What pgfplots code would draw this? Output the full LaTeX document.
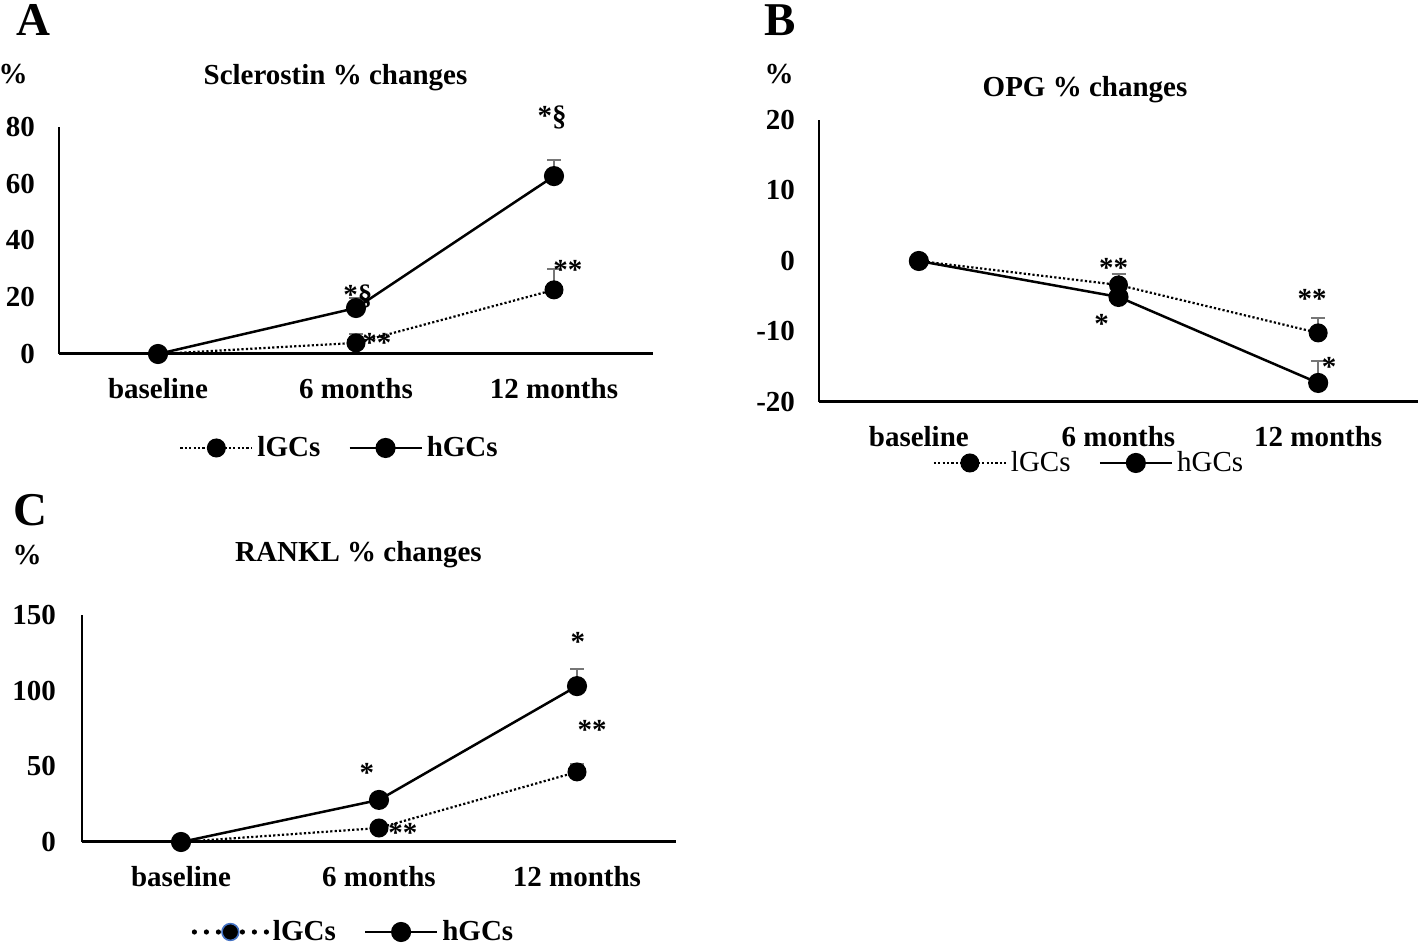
\documentclass[border=0pt]{standalone}
\usepackage{fontspec}
\setmainfont{Liberation Serif}
\usepackage{pgfplots}
\pgfplotsset{compat=1.18}
\definecolor{errgray}{RGB}{118,118,118}
\definecolor{mkblue}{RGB}{68,114,196}
\newcommand{\fs}{\fontsize{14.5}{17}\selectfont}
\tikzset{star/.style={font=\fs\bfseries, anchor=base, inner sep=0pt}}
\pgfplotsset{
 panel/.style={
  scale only axis, axis lines=left, axis line style={-, line width=1pt},
  x axis line style={line width=1.5pt},
  xmin=-0.5, xmax=2.5, xtick={0,1,2}, xticklabels={baseline, 6 months, 12 months},
  major tick length=0pt, clip=false,
  tick label style={font=\fs\bfseries},
  /pgf/number format/assume math mode=true,
  xticklabel style={yshift=-8.5pt},
  yticklabel style={xshift=-8.5pt},
  anchor=south west,
  legend image code/.code={\draw[mark repeat=2,mark phase=2,##1] plot coordinates {(0pt,0pt) (18pt,0pt) (36pt,0pt)};},
  legend style={draw=none, fill=none, inner sep=0pt, anchor=center, legend columns=2, font=\fs\bfseries,
    /tikz/every even column/.append style={column sep=12pt}},
 },
 hg/.style={black, solid, line width=1.25pt, mark=*, mark size=4.4pt, mark options={solid, fill=black}},
 lg/.style={black, line width=1.1pt, dash pattern=on 1.1pt off 1.1pt, mark=*, mark size=4.2pt, mark options={solid, fill=black}},
 eb/.style={error bars/.cd, y dir=plus, y explicit,
   error bar style={errgray, line width=1pt, solid},
   error mark options={rotate=90, errgray, mark size=3.5pt, line width=1pt, solid}},
}
\begin{document}
\begin{tikzpicture}
\path[use as bounding box] (0,0) rectangle (709pt,473pt);

% ---------------- Panel A ----------------
\begin{axis}[panel, at={(29.5pt,296pt)}, width=297pt, height=113.5pt,
  ymin=0, ymax=80, ytick={0,20,40,60,80},
  legend style={at={(0.4739,-0.4141)}}]
\addplot[lg, eb] coordinates {(0,0) +- (0,0) (1,3.9) +- (0,3.1) (2,22.6) +- (0,7.4)};
\addlegendentry{lGCs}
\addplot[hg, eb] coordinates {(0,0) +- (0,0) (1,16.2) +- (0,3.5) (2,62.7) +- (0,5.7)};
\addlegendentry{hGCs}
\node[star] at (axis cs:1.01,17.3) {*§};
\node[star] at (axis cs:1.106,0.35) {**};
\node[star] at (axis cs:1.99,80.4) {*§};
\node[star] at (axis cs:2.07,26.1) {**};
\end{axis}

% ---------------- Panel B ----------------
\begin{axis}[panel, at={(409.5pt,272pt)}, width=299.5pt, height=141pt,
  ymin=-20, ymax=20, ytick={-20,-10,0,10,20},
  legend style={at={(0.4524,-0.2163)}, font=\fs\mdseries}]
\addplot[lg, eb] coordinates {(0,0) +- (0,0) (1,-3.4) +- (0,1.5) (2,-10.2) +- (0,2.1)};
\addlegendentry{lGCs}
\addplot[hg, eb] coordinates {(0,0) +- (0,0) (1,-5.1) +- (0,1.0) (2,-17.3) +- (0,3.1)};
\addlegendentry{hGCs}
\node[star] at (axis cs:0.975,-2.41) {**};
\node[star] at (axis cs:0.915,-10.35) {*};
\node[star] at (axis cs:1.97,-6.67) {**};
\node[star] at (axis cs:2.055,-16.45) {*};
\end{axis}

% ---------------- Panel C ----------------
\begin{axis}[panel, at={(41pt,52pt)}, width=297pt, height=113.5pt,
  ymin=0, ymax=150, ytick={0,50,100,150},
  yticklabel style={xshift=-1pt},
  legend style={at={(0.4588,-0.3965)}}]
\addplot[forget plot, lg, eb] coordinates {(0,0) +- (0,0) (1,9.25) +- (0,1.5) (2,46.3) +- (0,5.2)};
\addplot[forget plot, hg, eb] coordinates {(0,0) +- (0,0) (1,27.8) +- (0,3.2) (2,103) +- (0,11.2)};
\addlegendimage{black, line width=2.6pt, dash pattern=on 0pt off 6pt, line cap=round, mark=*, mark size=4.2pt, mark options={solid, fill=black, draw=mkblue, line width=0.8pt}}
\addlegendentry{lGCs}
\addlegendimage{hg}
\addlegendentry{hGCs}
\node[star] at (axis cs:0.939,39.0) {*};
\node[star] at (axis cs:1.121,-0.66) {**};
\node[star] at (axis cs:2.005,126.2) {*};
\node[star] at (axis cs:2.076,67.4) {**};
\end{axis}

% ---------------- Titles, units, letters ----------------
\node[font=\fs\bfseries] at (167.75pt,434pt) {Sclerostin \% changes};
\node[font=\fs\bfseries] at (542.5pt,428pt) {OPG \% changes};
\node[font=\fs\bfseries] at (179.25pt,195.5pt) {RANKL \% changes};
\node[font=\fs\bfseries] at (6.5pt,436pt) {\%};
\node[font=\fs\bfseries] at (389.5pt,436pt) {\%};
\node[font=\fs\bfseries] at (13.5pt,195.5pt) {\%};
\node[font=\fontsize{23.5}{26}\selectfont\bfseries] at (16.5pt,463pt) {A};
\node[font=\fontsize{23.5}{26}\selectfont\bfseries] at (390pt,463pt) {B};
\node[font=\fontsize{23.5}{26}\selectfont\bfseries] at (15pt,218pt) {C};
\end{tikzpicture}
\end{document}
